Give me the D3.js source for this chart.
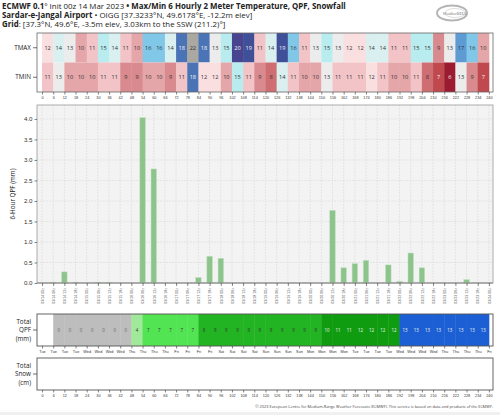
<!DOCTYPE html>
<html lang="en">
<head>
<meta charset="UTF-8">
<title>ECMWF Meteogram - Sardar-e-Jangal Airport</title>
<script src="https://d3js.org/d3.v7.min.js"></script>
<style>
  body { margin: 0; background: #fff; }
  svg { display: block; font-family: "Open Sans", sans-serif; }
  .axis path { stroke: #555; }
  .axis line { stroke: #333; }
</style>
</head>
<body>
<svg width="500" height="415"></svg>
<script>
// forecast hours (tick positions)
const hours = [0,6,12,18,24,30,36,42,48,54,60,66,72,78,84,90,96,102,108,114,120,
  126,132,138,144,150,156,162,168,174,180,186,192,198,204,210,216,222,228,234,240];

// 6-hourly max / min temperature, one per 6h interval
const tmax = [12,14,13,10,11,15,14,11,10,16,16,14,18,22,18,13,15,20,19,11,
  14,19,16,11,13,15,13,12,12,14,14,11,11,15,15,9,13,17,16,10];
const tmin = [11,13,10,10,10,11,11,9,9,10,10,9,11,18,12,12,10,15,11,9,
  8,14,11,10,10,13,11,11,11,12,11,10,10,11,8,7,6,13,9,7];

// 6-hour QPF (mm) at each forecast hour
const qpf6h = [0,0.02,0.27,0.02,0,0.02,0.01,0,0,4.03,2.78,0,0,0,0.13,0.65,0.6,0,0,0,0,
  0,0,0,0,0,1.77,0.37,0.47,0.55,0,0.44,0.04,0.73,0.37,0,0,0,0.08,0,0];

// running total QPF (mm), one per interval
const totalQpf = [null,0,0,0,0,0,0,0,4,7,7,7,7,7,8,9,9,9,9,9,9,9,9,9,9,
  10,11,11,12,12,12,12,13,13,13,13,13,13,13,13];

const dayLabels = ["Tue","Tue","Tue","Tue","Wed","Wed","Wed","Wed","Thu","Thu","Thu","Thu",
  "Fri","Fri","Fri","Fri","Sat","Sat","Sat","Sat","Sun","Sun","Sun","Sun","Mon","Mon","Mon","Mon",
  "Tue","Tue","Tue","Tue","Wed","Wed","Wed","Wed","Thu","Thu","Thu","Thu","Fri"];

const dateLabels = ["03/14 00z","03/14 06z","03/14 12z","03/14 18z","03/15 00z","03/15 06z","03/15 12z","03/15 18z",
  "03/16 00z","03/16 06z","03/16 12z","03/16 18z","03/17 00z","03/17 06z","03/17 12z","03/17 18z",
  "03/18 00z","03/18 06z","03/18 12z","03/18 18z","03/19 00z","03/19 06z","03/19 12z","03/19 18z",
  "03/20 00z","03/20 06z","03/20 12z","03/20 18z","03/21 00z","03/21 06z","03/21 12z","03/21 18z",
  "03/22 00z","03/22 06z","03/22 12z","03/22 18z","03/23 00z","03/23 06z","03/23 12z","03/23 18z","03/24 00z"];

const yTicks = [0,0.5,1,1.5,2,2.5,3,3.5,4];

// colour ramps
const tempStops = [6,7,8,9,10,11,12,13,14,15,16,17,18,19,20,21,22];
const tempColors = ["#9b1b30","#c0494f","#cf6e72","#d98a8e","#e5a6a9","#f2c4c7","#fadfe1","#ececec",
  "#d9eff0","#b8ecee","#80c7e8","#5e9bd2","#4b74b6","#3f4f98","#49448f","#77769a","#a9a9a1"];
const qpfColor = d3.scaleThreshold().domain([0.5, 5, 7.5, 9.5, 12.5])
  .range(["#bdbdbd","#a0e89a","#52e452","#22b422","#109c10","#1c5fd4"]);

const svg = d3.select("svg");
const x = d3.scaleLinear().domain([-2.7, 242.2]).range([37, 493]);
const step = x(6) - x(0);
const L = 37, R = 493;

// ---- header ----
const head = svg.append("g").attr("font-size", 7.9).attr("fill", "#222");
function headLine(y, parts) {
  const t = head.append("text").attr("x", 2).attr("y", y);
  parts.forEach(p => t.append("tspan").attr("font-weight", p[1] ? "bold" : "normal").text(p[0]));
}
headLine(8.5, [["ECMWF 0.1", 1], ["° Init 00z 14 Mar 2023 ", 0], ["• Max/Min 6 Hourly 2 Meter Temperature,  QPF,  Snowfall", 1]]);
headLine(17.5, [["Sardar-e-Jangal Airport", 1], [" • OIGG [37.3233°N, 49.6178°E, -12.2m elev]", 0]]);
headLine(26.5, [["Grid", 1], [": [37.3°N, 49.6°E, -3.5m elev, 3.03km to the SSW (211.2)°]", 0]]);

// logo
const logo = svg.append("g").attr("transform", "translate(452,13)");
logo.append("ellipse").attr("rx", 15).attr("ry", 7.5).attr("fill", "none").attr("stroke", "#b5b5b5").attr("stroke-width", 2);
logo.append("ellipse").attr("cx", 3).attr("rx", 10).attr("ry", 4.5).attr("fill", "#fff").attr("stroke", "#d5d5d5").attr("stroke-width", 0.8);
logo.append("text").attr("x", 3).attr("y", 1.6).attr("text-anchor", "middle").attr("font-size", 4.2)
  .attr("font-family", "Liberation Serif, serif").attr("fill", "#777").text("WeatherBELL");

// ---- temperature panel ----
const tTop = 33, tMid = 62.5, tBot = 92;
const tempColor = d3.scaleLinear().domain(tempStops).range(tempColors).clamp(true);
svg.append("rect").attr("x", L).attr("y", tTop).attr("width", R - L).attr("height", tBot - tTop).attr("fill", "#fff");
[[tmax, tTop], [tmin, tMid]].forEach(([vals, y0]) => {
  const g = svg.append("g");
  g.selectAll("rect").data(vals).join("rect")
    .attr("x", (d, i) => x(hours[i])).attr("y", y0)
    .attr("width", step + 0.4).attr("height", tMid - tTop)
    .attr("fill", d => tempColor(d));
  g.selectAll("text").data(vals).join("text")
    .attr("x", (d, i) => x(hours[i] + 3)).attr("y", y0 + (tMid - tTop) / 2 + 2)
    .attr("text-anchor", "middle").attr("font-size", 5.6)
    .attr("fill", d => (d <= 7 || (d >= 18 && d <= 21)) ? "#f4f4f4" : "#333")
    .text(d => d);
});
svg.append("rect").attr("x", L).attr("y", tTop).attr("width", R - L).attr("height", tBot - tTop)
  .attr("fill", "none").attr("stroke", "#666").attr("stroke-width", 0.8);
const rowLab = svg.append("g").attr("font-size", 6.3).attr("fill", "#222").attr("text-anchor", "end");
[["TMAX", (tTop + tMid) / 2], ["TMIN", (tMid + tBot) / 2]].forEach(([t, y]) => {
  rowLab.append("text").attr("x", 31).attr("y", y + 2).text(t);
  svg.append("line").attr("x1", 33).attr("x2", L).attr("y1", y).attr("y2", y).attr("stroke", "#333").attr("stroke-width", 0.7);
});

function bottomAxis(y, labels) {
  const g = svg.append("g").attr("class", "axis").attr("transform", `translate(0,${y})`)
    .call(d3.axisBottom(x).tickValues(hours).tickSize(2.5).tickPadding(1.5).tickFormat((d, i) => labels[i]));
  g.select(".domain").remove();
  g.selectAll("text").attr("font-size", 3.8).attr("fill", "#333");
  g.selectAll("line").attr("stroke-width", 0.6);
  return g;
}
bottomAxis(tBot, hours);

// ---- 6-hour QPF bar chart ----
const mTop = 105, mBot = 283;
const y = d3.scaleLinear().domain([0, 4.34]).range([mBot, mTop]);
svg.append("rect").attr("x", L).attr("y", mTop).attr("width", R - L).attr("height", mBot - mTop).attr("fill", "#f3f3f3");
const grid = svg.append("g").attr("stroke", "#dadada").attr("stroke-width", 0.6).attr("stroke-dasharray", "2,1");
grid.selectAll(".v").data(hours).join("line").attr("class", "v")
  .attr("x1", d => x(d)).attr("x2", d => x(d)).attr("y1", mTop).attr("y2", mBot);
grid.selectAll(".h").data(yTicks).join("line").attr("class", "h")
  .attr("x1", L).attr("x2", R).attr("y1", d => y(d)).attr("y2", d => y(d));
svg.append("g").selectAll("rect").data(qpf6h).join("rect")
  .attr("x", (d, i) => x(hours[i]) - 2.7).attr("width", 5.4)
  .attr("y", d => y(d)).attr("height", d => mBot - y(d))
  .attr("fill", "#8cc48c").attr("stroke", "#b9dcb9").attr("stroke-width", 0.5);
svg.append("rect").attr("x", L).attr("y", mTop).attr("width", R - L).attr("height", mBot - mTop)
  .attr("fill", "none").attr("stroke", "#999").attr("stroke-width", 0.8);
svg.append("line").attr("x1", L).attr("x2", R).attr("y1", mBot).attr("y2", mBot).attr("stroke", "#888").attr("stroke-width", 1);

const ya = svg.append("g").attr("class", "axis").attr("transform", `translate(${L},0)`)
  .call(d3.axisLeft(y).tickValues(yTicks).tickSize(2.5).tickPadding(2).tickFormat(d3.format(".1f")));
ya.select(".domain").remove();
ya.selectAll("text").attr("font-size", 6.2).attr("fill", "#333");
ya.selectAll("line").attr("stroke-width", 0.6);
svg.append("text").attr("transform", `translate(15,${(mTop + mBot) / 2}) rotate(-90)`)
  .attr("text-anchor", "middle").attr("font-size", 6.3).attr("fill", "#222").text("6-Hour QPF (mm)");

const xa = svg.append("g").attr("class", "axis").attr("transform", `translate(0,${mBot})`)
  .call(d3.axisBottom(x).tickValues(hours).tickSize(3).tickFormat((d, i) => dateLabels[i]));
xa.select(".domain").remove();
xa.selectAll("line").attr("stroke-width", 0.6);
xa.selectAll("text").attr("font-size", 3.6).attr("fill", "#555")
  .attr("text-anchor", "end").attr("transform", "rotate(-90)")
  .attr("x", -5).attr("y", 0).attr("dy", "0.35em");

// ---- total QPF strip ----
const qTop = 314, qBot = 346;
svg.append("rect").attr("x", L).attr("y", qTop).attr("width", R - L).attr("height", qBot - qTop).attr("fill", "#fff");
const qg = svg.append("g");
qg.selectAll("rect").data(totalQpf).join("rect")
  .attr("x", (d, i) => x(hours[i])).attr("y", qTop).attr("width", step + 0.4).attr("height", qBot - qTop)
  .attr("fill", d => d == null ? "#fff" : qpfColor(d));
qg.selectAll("text").data(totalQpf).join("text")
  .attr("x", (d, i) => x(hours[i] + 3)).attr("y", (qTop + qBot) / 2 + 1.6)
  .attr("text-anchor", "middle").attr("font-size", 4.4)
  .attr("fill", d => d === 0 ? "#666" : d >= 10 ? "#eef4ee" : "#333")
  .text(d => d == null ? "" : d);
svg.append("rect").attr("x", L).attr("y", qTop).attr("width", R - L).attr("height", qBot - qTop)
  .attr("fill", "none").attr("stroke", "#555").attr("stroke-width", 0.9);
bottomAxis(qBot, dayLabels);

// ---- total snow strip ----
const sTop = 358, sBot = 390;
svg.append("rect").attr("x", L).attr("y", sTop).attr("width", R - L).attr("height", sBot - sTop)
  .attr("fill", "#fff").attr("stroke", "#555").attr("stroke-width", 0.9);
bottomAxis(sBot, hours);

// side labels for strips
[[["Total", "QPF", "(mm)"], qTop, qBot], [["Total", "Snow", "(cm)"], sTop, sBot]].forEach(([lines, t, b]) => {
  const mid = (t + b) / 2;
  lines.forEach((s, i) => rowLab.append("text").attr("x", 31).attr("y", mid + (i - 1) * 8.5 + 2.2).text(s));
  svg.append("line").attr("x1", 33).attr("x2", L).attr("y1", mid).attr("y2", mid).attr("stroke", "#333").attr("stroke-width", 0.7);
});

// footer
svg.append("text").attr("x", 493).attr("y", 408).attr("text-anchor", "end").attr("font-size", 3.9).attr("fill", "#444")
  .text("© 2023 European Centre for Medium-Range Weather Forecasts (ECMWF). This service is based on data and products of the ECMWF.");
svg.append("rect").attr("x", 0).attr("y", 412).attr("width", 500).attr("height", 3).attr("fill", "#f0f0f0");
</script>
</body>
</html>
